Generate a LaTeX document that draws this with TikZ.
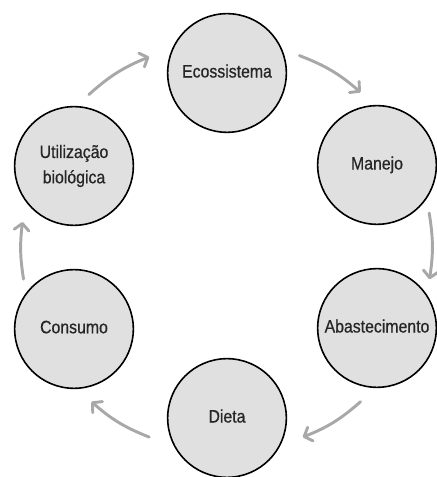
\documentclass[tikz,border=0pt]{standalone}
\usepackage{fontspec}
\setmainfont{Liberation Sans}[FakeStretch=0.88, FakeBold=0.6]
\usetikzlibrary{arrows.meta}
\definecolor{circfill}{HTML}{E0E0E0}
\definecolor{arrgray}{HTML}{A8A8A8}
\newcommand{\uplabel}[1]{\raisebox{3pt}{#1}}
\tikzset{
  stage/.style={circle, draw=black, line width=1.2pt, fill=circfill,
    minimum size=89pt, inner sep=0pt, align=center,
    font=\fontsize{13.5}{19}\selectfont, text=black!85},
  cyc/.style={draw=arrgray, line width=2.2pt, line cap=round,
    -{Straight Barb[length=5pt, width=11pt, line cap=round, line join=round]}}
}
\begin{document}
\begin{tikzpicture}[x=0.75pt, y=0.75pt]
\useasboundingbox (0,0) rectangle (436,477);
\node[stage] (eco) at (227,404) {\uplabel{Ecossistema}};
\node[stage] (man) at (377,312) {\uplabel{Manejo}};
\node[stage] (aba) at (377,149) {\uplabel{Abastecimento}};
\node[stage] (die) at (227,59) {\uplabel{Dieta}};
\node[stage] (con) at (74,148) {\uplabel{Consumo}};
\node[stage] (uti) at (74,311) {Utilização\\biológica};
\coordinate (c) at (226,230);
\coordinate (a1s) at ([shift={(132:205)}]c);
\coordinate (a1e) at ([shift={(112:205)}]c);
\coordinate (a2s) at ([shift={(69:205)}]c);
\coordinate (a2e) at ([shift={(49:205)}]c);
\coordinate (a3s) at ([shift={(9.5:206)}]c);
\coordinate (a3e) at ([shift={(-9:206)}]c);
\coordinate (a4s) at ([shift={(-49:205)}]c);
\coordinate (a4e) at ([shift={(-68:205)}]c);
\coordinate (a5s) at ([shift={(-112:205)}]c);
\coordinate (a5e) at ([shift={(-131:205)}]c);
\coordinate (a6s) at ([shift={(189:205)}]c);
\coordinate (a6e) at ([shift={(173:205)}]c);
\draw[cyc] (a1s) to[bend left=10] (a1e);
\draw[cyc] (a2s) to[bend left=10] (a2e);
\draw[cyc] (a3s) to[bend left=9] (a3e);
\draw[cyc] (a4s) to[bend left=10] (a4e);
\draw[cyc] (a5s) to[bend left=10] (a5e);
\draw[cyc] (a6s) to[bend left=8] (a6e);
\end{tikzpicture}
\end{document}
